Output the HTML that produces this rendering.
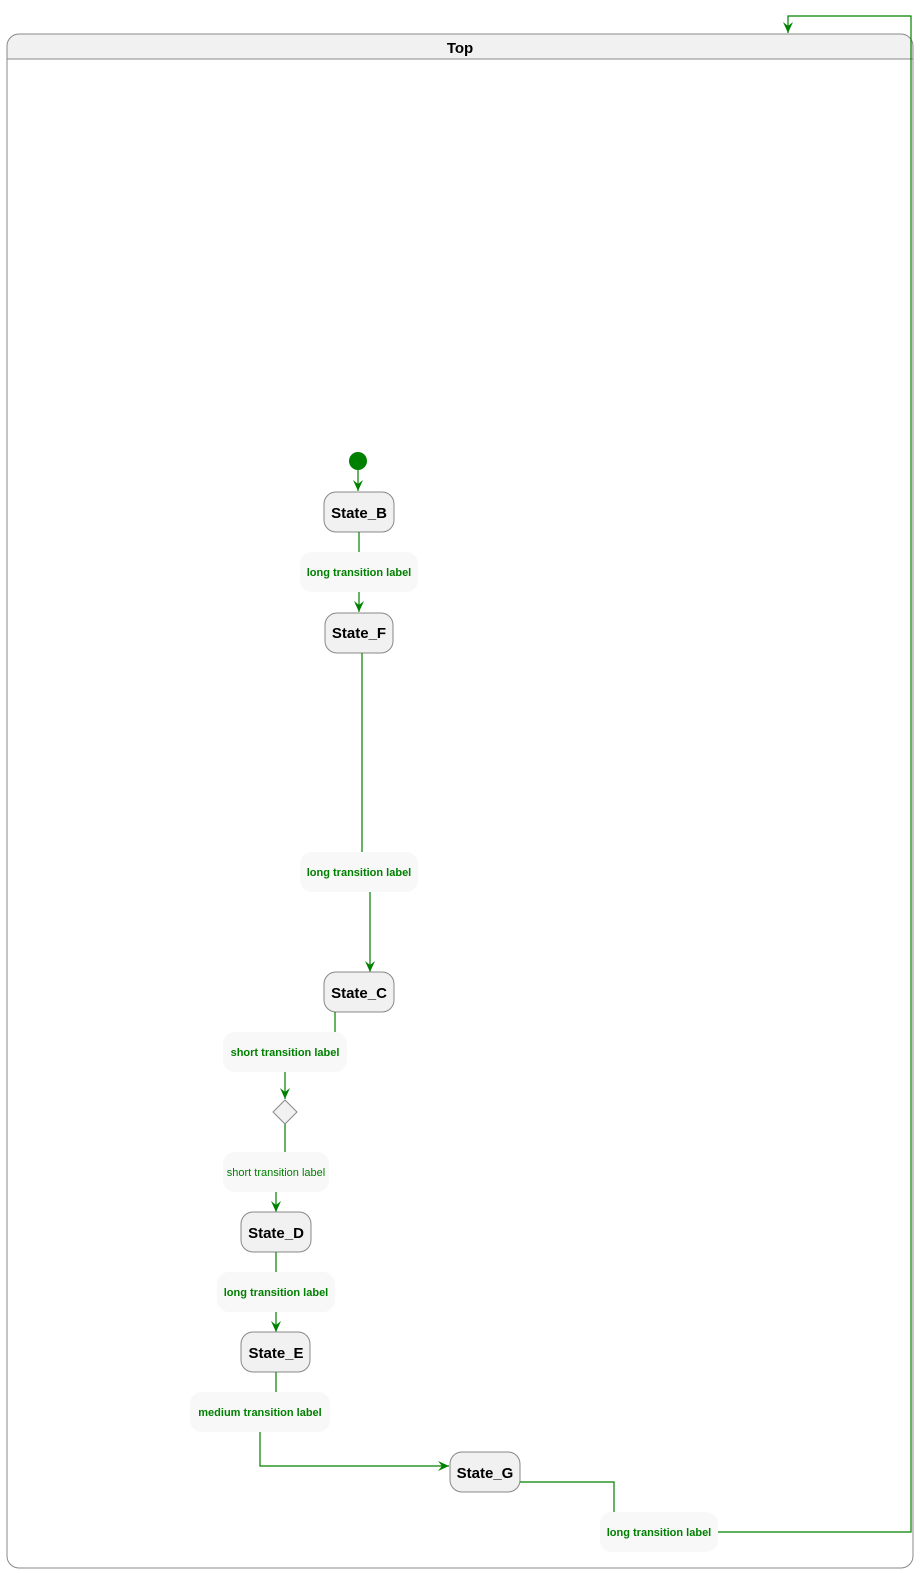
<!DOCTYPE html>
<html><head><meta charset="utf-8"><style>
html,body{margin:0;padding:0;background:#fff;}
svg{display:block;}
text{font-family:"Liberation Sans",Arial,sans-serif;}
.st{fill:#f1f1f1;stroke:#888;stroke-width:1;}
.lb{fill:#f8f8f8;stroke:none;}
.ln{stroke:#008000;stroke-width:1.2;fill:none;}
.ah{fill:#008000;stroke:none;}
.sn{font-size:15px;font-weight:bold;fill:#000;text-anchor:middle;}
.lt{font-size:11px;font-weight:bold;fill:#008000;text-anchor:middle;}
.ltn{font-size:11px;fill:#008000;text-anchor:middle;}
</style></head><body>
<svg width="920" height="1573" viewBox="0 0 920 1573" xmlns="http://www.w3.org/2000/svg">
<defs>
<marker id="a" viewBox="0 0 12 12" refX="11" refY="6" markerWidth="12" markerHeight="12" markerUnits="userSpaceOnUse" orient="auto">
<path d="M0,1 L11,6 L0,11 L4,6 Z" fill="#008000"/>
</marker>
</defs>
<!-- container -->
<path d="M7,59 L7,46 Q7,34 19,34 L901,34 Q913,34 913,46 L913,59 Z" fill="#f1f1f1"/>
<rect x="7" y="34" width="906" height="1534" rx="12" ry="12" fill="none" stroke="#888" stroke-width="1"/>
<line x1="7" y1="59" x2="913" y2="59" stroke="#888" stroke-width="1"/>
<text x="460" y="53" class="sn">Top</text>

<!-- initial -->
<circle cx="358" cy="461" r="9" fill="#008000"/>
<line class="ln" x1="358" y1="470" x2="358" y2="491" marker-end="url(#a)"/>

<!-- State_B -->
<rect class="st" x="324" y="492" width="70" height="40" rx="12"/>
<text class="sn" x="359" y="518">State_B</text>
<line class="ln" x1="359" y1="532" x2="359" y2="552"/>
<rect class="lb" x="300" y="552" width="118" height="40" rx="12"/>
<text class="lt" x="359" y="576">long transition label</text>
<line class="ln" x1="359" y1="592" x2="359" y2="612" marker-end="url(#a)"/>

<!-- State_F -->
<rect class="st" x="325" y="613" width="68" height="40" rx="12"/>
<text class="sn" x="359" y="638">State_F</text>
<line class="ln" x1="362" y1="653" x2="362" y2="852"/>
<rect class="lb" x="300" y="852" width="118" height="40" rx="12"/>
<text class="lt" x="359" y="876">long transition label</text>
<line class="ln" x1="370" y1="892" x2="370" y2="972" marker-end="url(#a)"/>

<!-- State_C -->
<rect class="st" x="324" y="972" width="70" height="40" rx="12"/>
<text class="sn" x="359" y="998">State_C</text>
<line class="ln" x1="335" y1="1012" x2="335" y2="1032"/>
<rect class="lb" x="223" y="1032" width="124" height="40" rx="12"/>
<text class="lt" x="285" y="1056">short transition label</text>
<line class="ln" x1="285" y1="1072" x2="285" y2="1099" marker-end="url(#a)"/>

<!-- diamond -->
<path d="M285,1100 L297,1112 L285,1124 L273,1112 Z" fill="#f1f1f1" stroke="#888" stroke-width="1"/>
<line class="ln" x1="285" y1="1124" x2="285" y2="1152"/>
<rect class="lb" x="223" y="1152" width="106" height="40" rx="12"/>
<text class="ltn" x="276" y="1176">short transition label</text>
<line class="ln" x1="276" y1="1192" x2="276" y2="1212" marker-end="url(#a)"/>

<!-- State_D -->
<rect class="st" x="241" y="1212" width="70" height="40" rx="12"/>
<text class="sn" x="276" y="1238">State_D</text>
<line class="ln" x1="276" y1="1252" x2="276" y2="1272"/>
<rect class="lb" x="217" y="1272" width="118" height="40" rx="12"/>
<text class="lt" x="276" y="1296">long transition label</text>
<line class="ln" x1="276" y1="1312" x2="276" y2="1332" marker-end="url(#a)"/>

<!-- State_E -->
<rect class="st" x="241" y="1332" width="69" height="40" rx="12"/>
<text class="sn" x="276" y="1358">State_E</text>
<line class="ln" x1="276" y1="1372" x2="276" y2="1392"/>
<rect class="lb" x="190" y="1392" width="140" height="40" rx="12"/>
<text class="lt" x="260" y="1416">medium transition label</text>
<polyline class="ln" points="260,1432 260,1466 449,1466" marker-end="url(#a)"/>

<!-- State_G -->
<rect class="st" x="450" y="1452" width="70" height="40" rx="12"/>
<text class="sn" x="485" y="1478">State_G</text>
<polyline class="ln" points="520,1482 614,1482 614,1512"/>
<rect class="lb" x="600" y="1512" width="118" height="40" rx="12"/>
<text class="lt" x="659" y="1536">long transition label</text>
<polyline class="ln" points="718,1532 911,1532 911,16 788,16 788,33" marker-end="url(#a)"/>
</svg>
</body></html>
